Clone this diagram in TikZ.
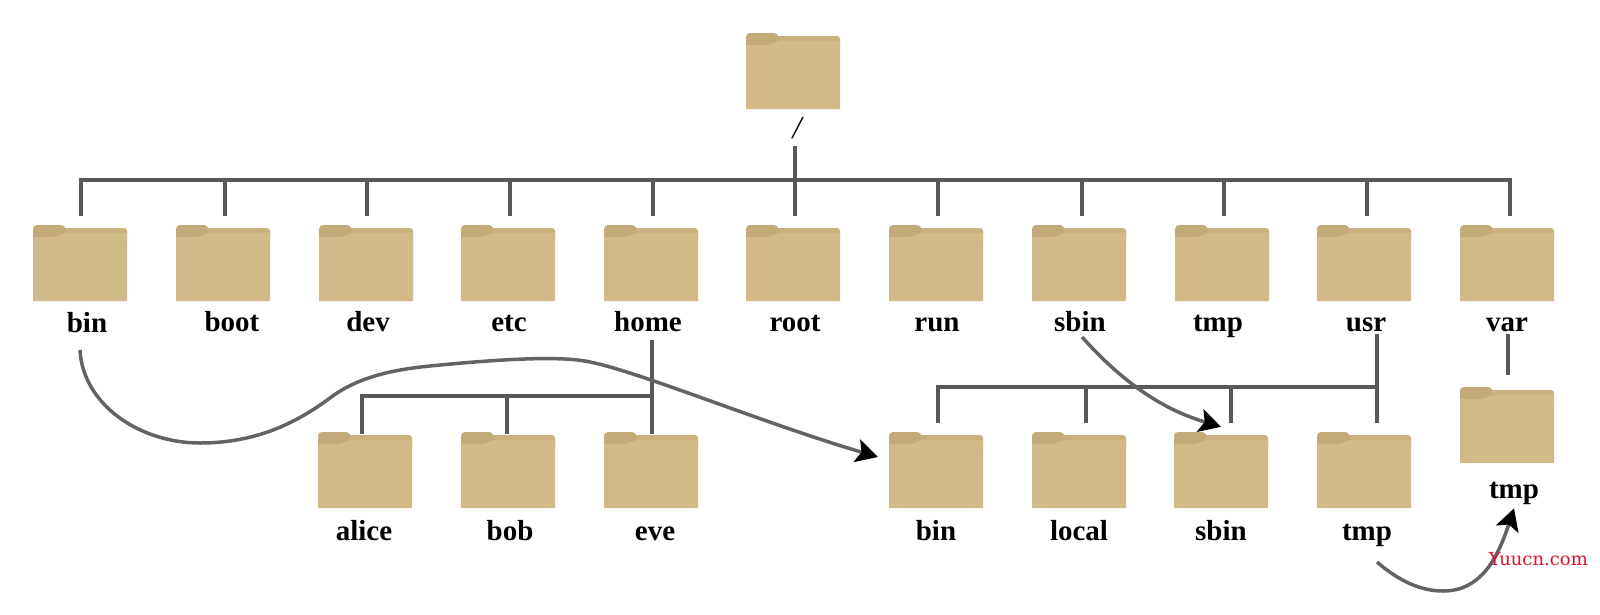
\documentclass[tikz,border=0pt]{standalone}
\usepackage{fontspec}
\setmainfont{Liberation Serif}
\newfontfamily\markfont{DejaVu Serif}
\usetikzlibrary{arrows.meta}
\definecolor{folderbody}{HTML}{D1BA87}
\definecolor{foldertab}{HTML}{C3AA78}
\definecolor{folderstrip}{HTML}{C9B17F}
\definecolor{treeline}{HTML}{585858}
\definecolor{linkline}{HTML}{636363}
\definecolor{markred}{HTML}{D8142C}
\tikzset{
    folder/.style={rectangle, inner sep=0pt, minimum width=94pt, minimum height=76pt,
        path picture={
            \fill[folderstrip, rounded corners=3pt] (-20,-18) -- (-20,-35) -- (47,-35) -- (47,-18) -- cycle;
            \fill[foldertab, rounded corners=4pt] (-47,-18) -- (-47,-38) -- (-15,-38) -- (-14,-30) -- (-20,-18) -- cycle;
            \fill[folderbody] (-47,38) -- (-47,-26) -- (-27,-26) .. controls (-21,-26) and (-19,-30) .. (-12,-30) -- (47,-30) -- (47,38) -- cycle;
        }},
    dirname/.style={inner sep=0pt, anchor=base, font=\fontsize{29}{29}\selectfont\bfseries},
    trunk/.style={draw=treeline, line width=4.5pt, line cap=rect},
    link/.style={draw=linkline, line width=3.5pt, -{Stealth[length=22pt, width=24pt, inset=5pt, color=black, line width=0pt]}}
}
\begin{document}
\begin{tikzpicture}[x=1pt, y=-1pt]
    \useasboundingbox (0,0) rectangle (1600,614);

    % Root
    \node[folder] (root) at (793,71) {};
    \node[inner sep=0pt, font=\fontsize{32}{32}\selectfont\itshape] (rootname) at (797,128) {/};

    % First level
    \foreach \dname/\fx in {bin/80, boot/223, dev/366, etc/508, home/651, sysroot/793,
        run/936, sbin/1079, tmp/1222, usr/1364, var/1507} {
        \node[folder] (\dname) at (\fx,263) {};
    }
    \node[dirname] (binname) at (87,332) {bin};
    \node[dirname] (bootname) at (232,331) {boot};
    \node[dirname] (devname) at (368,331) {dev};
    \node[dirname] (etcname) at (509,331) {etc};
    \node[dirname] (homename) at (648,331) {home};
    \node[dirname] (sysrootname) at (795,331) {root};
    \node[dirname] (runname) at (937,331) {run};
    \node[dirname] (sbinname) at (1080,331) {sbin};
    \node[dirname] (tmpname) at (1218,331) {tmp};
    \node[dirname] (usrname) at (1366,331) {usr};
    \node[dirname] (varname) at (1507,331) {var};

    % Second level
    \foreach \dname/\fx in {alice/365, bob/508, eve/651, ubin/936, ulocal/1079, usbin/1221, utmp/1364} {
        \node[folder] (\dname) at (\fx,470) {};
    }
    \node[folder] (vtmp) at (1507,425) {};
    \node[dirname] (alicename) at (364,540) {alice};
    \node[dirname] (bobname) at (510,540) {bob};
    \node[dirname] (evename) at (655,540) {eve};
    \node[dirname] (ubinname) at (936,540) {bin};
    \node[dirname] (ulocalname) at (1079,540) {local};
    \node[dirname] (usbinname) at (1221,540) {sbin};
    \node[dirname] (utmpname) at (1367,540) {tmp};
    \node[dirname] (vtmpname) at (1514,498) {tmp};

    % Tree from the root
    \coordinate (rootstem) at (795,148);
    \coordinate (rootbus) at (795,180);
    \draw[trunk] (rootstem) -- (rootbus);
    \draw[trunk] ([xshift=1pt]bin.north |- rootbus) -- ([xshift=3pt]var.north |- rootbus);
    \foreach \dname/\dx in {bin/1, boot/2, dev/1, etc/2, home/2, sysroot/2,
        run/2, sbin/3, tmp/2, usr/3, var/3} {
        \draw[trunk] ([xshift=\dx pt]\dname.north |- rootbus) -- ([xshift=\dx pt, yshift=11pt]\dname.north);
    }

    % Tree from home
    \coordinate (homestem) at (652,342);
    \coordinate (homebus) at (652,396);
    \coordinate (homeend) at (652,432);
    \coordinate (alicedrop) at (362,432);
    \coordinate (bobdrop) at (507,432);
    \draw[trunk] (homestem) -- (homeend);
    \draw[trunk] (homebus) -- (alicedrop |- homebus) -- (alicedrop);
    \draw[trunk] (bobdrop |- homebus) -- (bobdrop);

    % Tree from usr
    \coordinate (usrstem) at (1377,336);
    \coordinate (usrbus) at (1377,387);
    \coordinate (usrend) at (1377,421);
    \coordinate (ubindrop) at (938,421);
    \coordinate (ulocaldrop) at (1086,421);
    \coordinate (usbindrop) at (1231,421);
    \draw[trunk] (usrstem) -- (usrend);
    \draw[trunk] (usrbus) -- (ubindrop |- usrbus) -- (ubindrop);
    \draw[trunk] (ulocaldrop |- usrbus) -- (ulocaldrop);
    \draw[trunk] (usbindrop |- usrbus) -- (usbindrop);

    % Tree from var
    \coordinate (varstem) at (1508,336);
    \draw[trunk] (varstem) -- ([yshift=14pt]vtmp.north -| varstem);

    % Links
    \coordinate (binlink) at (80,350);
    \coordinate (sbinlink) at (1082,337);
    \coordinate (tmplink) at (1377,562);
    \path[link] (binlink) .. controls (83,405) and (140,443) .. (200,443)
        .. controls (260,443) and (300,420) .. (330,398)
        .. controls (360,375) and (400,369) .. (430,366)
        .. controls (490,360) and (560,355) .. (590,362)
        .. controls (640,372) and (760,422) .. ([shift={(-11pt,13pt)}]ubin.west);
    \path[link] (sbinlink) .. controls (1125,385) and (1165,410) .. ([yshift=5pt]usbin.north);
    \path[link] (tmplink) .. controls (1400,582) and (1422,591) .. (1443,591)
        .. controls (1480,591) and (1497,560) .. ([yshift=-4pt]vtmpname.south);

    % Mark
    \node[inner sep=0pt, anchor=base east, text=markred, font=\fontsize{18}{18}\markfont] (yuucn) at (1588,565) {Yuucn.com};
\end{tikzpicture}
\end{document}
